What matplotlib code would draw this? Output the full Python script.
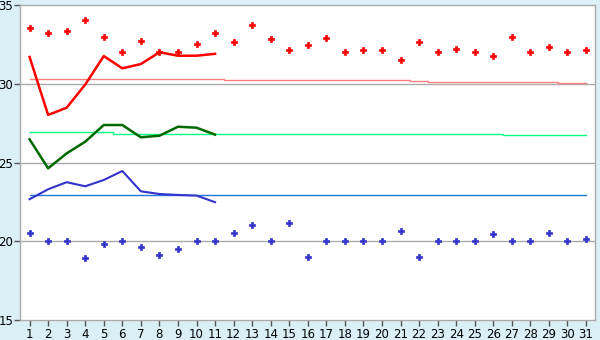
import matplotlib
matplotlib.use("Agg")
import matplotlib.pyplot as plt
import numpy as np

days = list(range(1, 32))
max_temp = [33.52, 33.2, 33.35, 34.03, 33.0, 32.0, 32.7, 32.0, 32.0, 32.5, 33.2,
            32.63, 33.71, 32.82, 32.12, 32.46, 32.88, 32.0, 32.12, 32.12, 31.49,
            32.63, 32.0, 32.18, 32.0, 31.74, 33.0, 32.0, 32.31, 32.0, 32.12]
min_temp = [20.51, 20.0, 20.0, 18.92, 19.81, 20.0, 19.62, 19.11, 19.49, 20.0, 20.0,
            20.51, 21.02, 20.0, 21.14, 18.98, 20.0, 20.0, 20.0, 20.0, 20.63,
            18.98, 20.0, 20.0, 20.0, 20.44, 20.0, 20.0, 20.51, 20.0, 20.13]
line_days = list(range(1, 12))
avg_max = [31.7, 28.02, 28.48, 29.95, 31.76, 30.98, 31.25, 32.0, 31.78, 31.78, 31.9]
avg_mean = [26.47, 24.63, 25.58, 26.32, 27.38, 27.38, 26.6, 26.7, 27.27, 27.21, 26.77]
avg_min = [22.67, 23.30, 23.75, 23.49, 23.89, 24.46, 23.17, 23.0, 22.94, 22.9, 22.48]
normal_max = [30.28]*11 + [30.22]*10 + [30.16] + [30.1]*7 + [30.03]*2
normal_mean = [26.92]*5 + [26.79]*21 + [26.75]*5
normal_min = [22.92]*31

fig = plt.figure(figsize=(6, 3.4), dpi=100)
fig.patch.set_facecolor('#daeff6')
ax = fig.add_axes([20.3/600, 20/340, 575/600, 315/340])
ax.set_facecolor('white')

for y in (20, 25, 30):
    ax.axhline(y, color='#aaaaaa', lw=1, zorder=1)

ax.plot(days, normal_max, color='#ff8080', lw=1, drawstyle='steps-mid', zorder=2)
ax.plot(days, normal_mean, color='#00ff80', lw=1, drawstyle='steps-mid', zorder=2)
ax.plot(days, normal_min, color='#2277dd', lw=1, drawstyle='steps-mid', zorder=2)

ax.plot(line_days, avg_max, color='#ff0000', lw=1.8, zorder=3)
ax.plot(line_days, avg_mean, color='#006a00', lw=1.8, zorder=3)
ax.plot(line_days, avg_min, color='#3333cc', lw=1.5, zorder=3)

ax.plot(days, max_temp, ls='none', marker='P', ms=4.3, color='#ff0000', mec='#ff0000', mew=0.5, zorder=4)
ax.plot(days, min_temp, ls='none', marker='P', ms=4.3, color='#3333cc', mec='#3333cc', mew=0.5, zorder=4)

ax.set_xlim(0.5, 31.5)
ax.set_ylim(15, 35)
ax.set_xticks(days)
ax.set_xticklabels([str(d) for d in days])
ax.set_yticks([15, 20, 25, 30, 35])
for s in ax.spines.values():
    s.set_color('#aaaaaa')
    s.set_linewidth(1)
ax.tick_params(axis='both', colors='#555555', labelcolor='black', labelsize=8.5,
               length=4, width=1, pad=2)
ax.tick_params(axis='y', pad=1)

fig.savefig('out.png', dpi=100, facecolor=fig.get_facecolor())
